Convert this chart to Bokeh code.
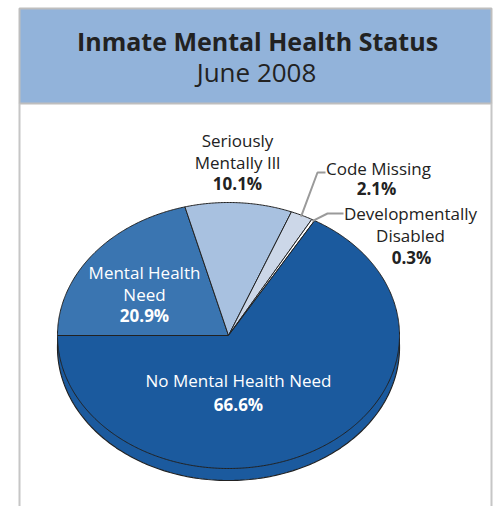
import math
from bokeh.plotting import figure
from bokeh.models import Range1d
from bokeh.core.properties import value
from bokeh.embed import file_html
from bokeh.resources import INLINE

# ---- data ----
title_text = "Inmate Mental Health Status"
subtitle_text = "June 2008"
categories = ["Mental Health Need", "Seriously Mentally Ill", "Code Missing",
              "Developmentally Disabled", "No Mental Health Need"]
shares = [20.9, 10.1, 2.1, 0.3, 66.6]
slice_colors = ["#3A75B1", "#A8C1E0", "#CCD7E8", "#FFFFFF", "#1B5A9E"]
label_names = [["Mental Health", "Need"], ["Seriously", "Mentally Ill"], ["Code Missing"],
               ["Developmentally", "Disabled"], ["No Mental Health Need"]]
pct_labels = ["20.9%", "10.1%", "2.1%", "0.3%", "66.6%"]

# ---- layout (canvas pixels) ----
W, H = 497, 506
CX, CY, RX, RY, DEPTH = 228, 335, 171, 133, 12
FONT = value("Open Sans")

p = figure(width=W, height=H, x_range=Range1d(0, W), y_range=Range1d(H, 0),
           toolbar_location=None, output_backend="svg", min_border=0,
           x_axis_type=None, y_axis_type=None, outline_line_color=None)
p.grid.visible = False
p.background_fill_color = "white"
p.border_fill_color = "white"

# frame
p.quad(left=[19], right=[491], top=[8], bottom=[103], fill_color="#92B3DA",
       line_color="#BEBEBE", line_width=2)
p.segment(x0=[19, 491], y0=[103, 103], x1=[19, 491], y1=[H, H],
          line_color="#C6C6C6", line_width=2)

p.text(x=[257], y=[40], text=[title_text], text_font=FONT, text_font_size="25px",
       text_font_style="bold", text_align="center", text_baseline="middle", text_color="#222222")
p.text(x=[256], y=[71], text=[subtitle_text], text_font=FONT, text_font_size="26px",
       text_align="center", text_baseline="middle", text_color="#222222")

def ell(theta_deg, dy=0.0, scale=1.0):
    t = math.radians(theta_deg)
    return CX + RX * scale * math.cos(t), CY + dy - RY * scale * math.sin(t)

# side (depth)
sx, sy = [], []
for i in range(0, 361):
    x, y = ell(i, DEPTH)
    sx.append(x); sy.append(y)
p.patch(sx, sy, fill_color=slice_colors[-1], line_color="#222222", line_width=1.2)

# top slices
xs, ys, mids = [], [], []
start = 180.0
for s in shares:
    sweep = s / 100.0 * 360.0
    end = start - sweep
    n = max(3, int(abs(sweep)) * 2)
    px, py = [CX], [CY]
    for k in range(n + 1):
        x, y = ell(start - sweep * k / n)
        px.append(x); py.append(y)
    xs.append(px); ys.append(py)
    mids.append((start + end) / 2.0)
    start = end
p.patches(xs, ys, fill_color=slice_colors, line_color="#222222", line_width=1)

# leader lines for small slices
for idx, (ex, ey, tx) in {2: (317, 172, 325), 3: (327, 213, 343)}.items():
    x0, y0 = ell(mids[idx], 0, 0.99)
    p.line([x0, ex, tx], [y0, ey, ey], line_color="#9A9A9A", line_width=2)

# labels
def label(lines, pct, x, y, color="#222222", pct_x=None, step=21.5):
    for j, t in enumerate(lines):
        p.text(x=[x], y=[y + j * step], text=[t], text_font=FONT, text_font_size="17px",
               text_align="center", text_baseline="middle", text_color=color)
    p.text(x=[pct_x if pct_x is not None else x], y=[y + len(lines) * step], text=[pct],
           text_font=FONT, text_font_size="17px", text_font_style="bold",
           text_align="center", text_baseline="middle", text_color=color)

label(label_names[0], pct_labels[0], 144, 272, color="white")
label(label_names[1], pct_labels[1], 237, 140)
label(label_names[2], pct_labels[2], 378, 168, pct_x=376, step=20)
label(label_names[3], pct_labels[3], 410, 213, pct_x=411, step=22)
label(label_names[4], pct_labels[4], 238, 380, color="white", step=24)

open("out.html", "w").write(file_html(p, INLINE))
